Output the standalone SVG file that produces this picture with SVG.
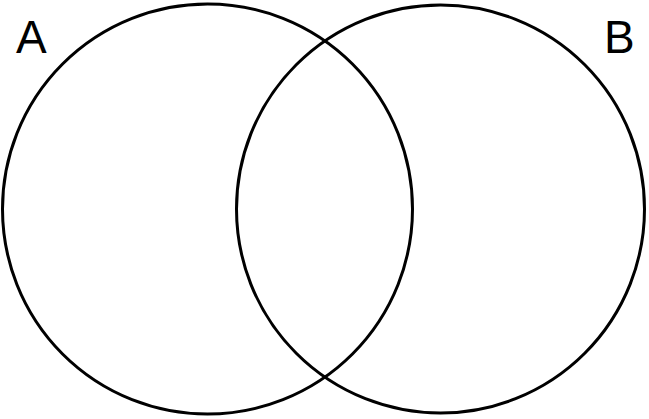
<svg xmlns="http://www.w3.org/2000/svg" width="649" height="419" viewBox="0 0 649 419">
<style>
.c{fill:none;stroke:#000;stroke-width:3}
.t{font-family:"Liberation Sans",Arial,sans-serif;font-size:46px;fill:#000}
</style>
<rect width="649" height="419" fill="#fff"/>
<g id="setA"><circle class="c" cx="207.5" cy="209" r="205"/><text class="t" x="16" y="53">A</text></g>
<g id="setB"><circle class="c" cx="440.5" cy="209" r="204"/><text class="t" x="604" y="53">B</text></g>
<g id="connectors"/>
</svg>
